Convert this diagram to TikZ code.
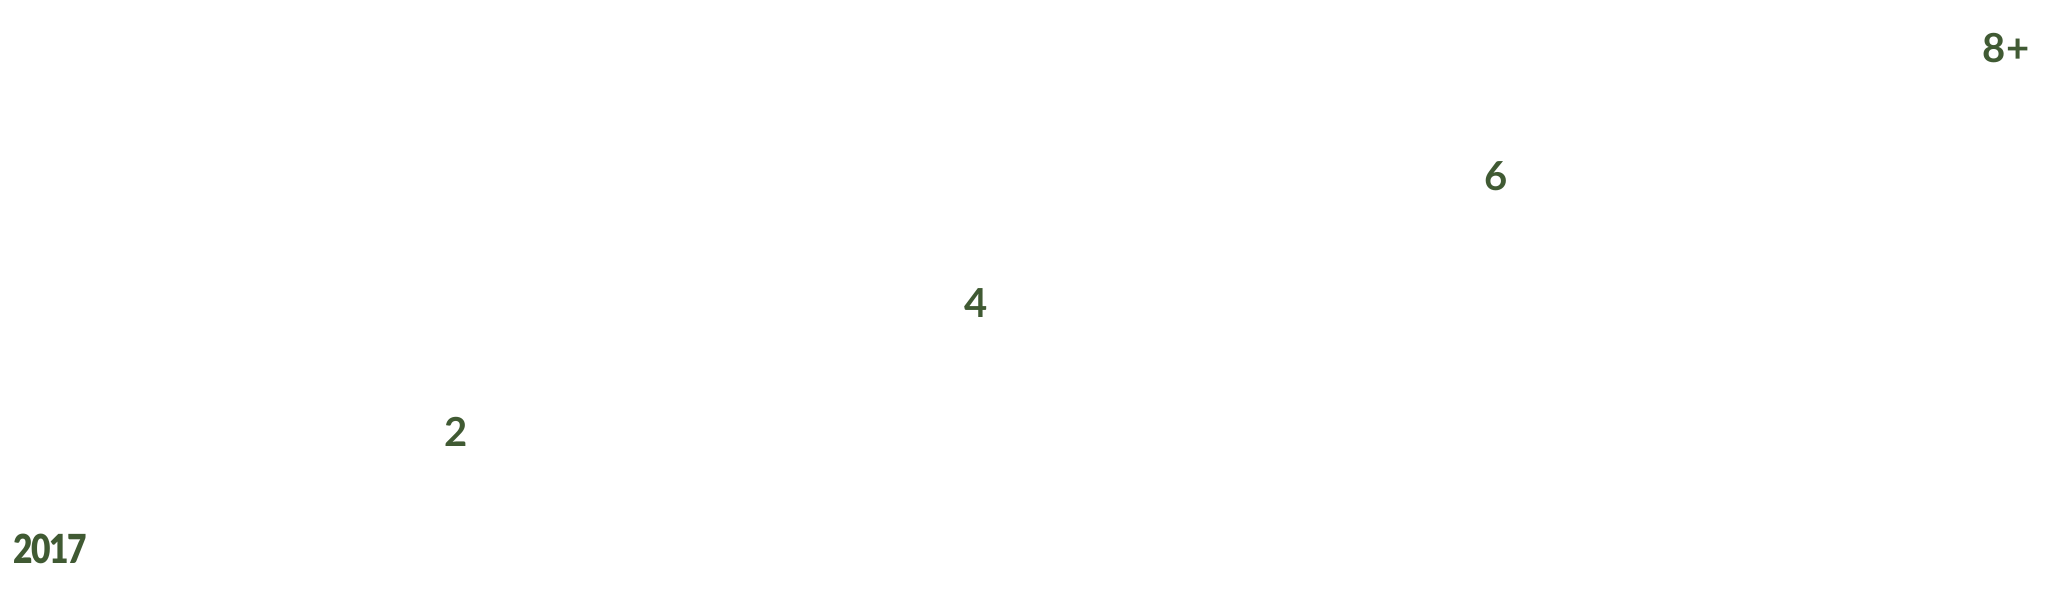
\documentclass[tikz,border=0pt]{standalone}
\usepackage{fontspec}
\setmainfont{Lato}
\newfontfamily\yearfont{Lato Black}[LetterSpace=-4]
\usepackage[rgb]{xcolor}
\usepackage{tikz}

\definecolor{mossgreen}{HTML}{405A33}

\begin{document}
\begin{tikzpicture}[x=0.5pt, y=-0.5pt,
  steplabel/.style={text=mossgreen, inner sep=0pt, font=\fontsize{20}{24}\selectfont\bfseries},
  yearlabel/.style={steplabel, font=\yearfont\fontsize{20}{24}\selectfont}]

% frame of the picture, in pixels of the reference
\useasboundingbox (0,0) rectangle (2057,599);

%% year on the left, counts going up to the right
\path
(13,549) node [yearlabel, anchor=west] (year){\scalebox{0.84}[1]{2017}};

\path
(456,432) node [steplabel] (two){2}
(976,303) node [steplabel] (four){4}
(1496,176) node [steplabel] (six){6}
(2006,48) node [steplabel] (eightplus){8+};

\end{tikzpicture}
\end{document}
